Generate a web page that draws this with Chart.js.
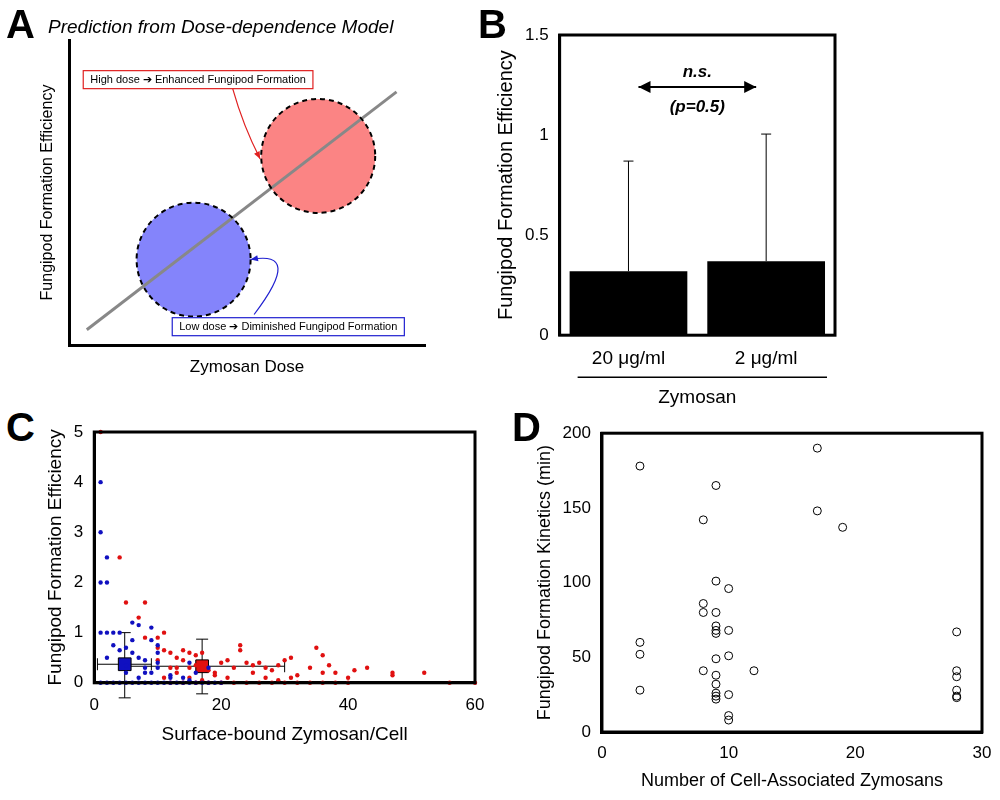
<!DOCTYPE html>
<html><head><meta charset="utf-8">
<script src="https://cdn.jsdelivr.net/npm/chart.js@4"></script>
<style>
body{margin:0;background:#fff;width:1000px;height:800px;position:relative;overflow:hidden;font-family:"Liberation Sans",Arial,sans-serif}
canvas{position:absolute}
.L{position:absolute;z-index:5;font-size:40px;font-weight:bold;font-family:"Liberation Sans",Arial,sans-serif}
#tA{position:absolute;z-index:5;left:48px;top:16px;font-style:italic;font-size:19px}
</style></head><body>
<canvas id="cA" width="470" height="419" style="left:12px;top:-17px"></canvas>
<canvas id="cB" width="370" height="390" style="left:490px;top:20px"></canvas>
<canvas id="cC" width="455" height="350" style="left:40px;top:410px"></canvas>
<canvas id="cD" width="470" height="386" style="left:530px;top:420px"></canvas>
<div class="L" style="left:6px;top:2px">A</div>
<div class="L" style="left:478px;top:2px">B</div>
<div class="L" style="left:6px;top:405px">C</div>
<div class="L" style="left:512px;top:405px">D</div>
<div id="tA">Prediction from Dose-dependence Model</div>
<script>
// ---------- DATA ----------
// Panel A (schematic)
const modelLine = [{x:5,y:5},{x:92,y:83}];
const lowDose = {x:35,y:28};
const highDose = {x:70,y:62};
const boxHigh = "High dose ➔ Enhanced Fungipod Formation";
const boxLow = "Low dose ➔ Diminished Fungipod Formation";
// Panel B
const barCategories = ["20 μg/ml","2 μg/ml"];
const barValues = [0.32, 0.37];
const barErrors = [0.55, 0.635];
// Panel C
const blueX = [1,1,2,1,2,1,2,3,4,2,3,4,5,6,7,5,6,6,7,8,8,9,9,9,10,10,10,10,5,7,8,12,12,14,15,16,15,18,1,2,3,4,5,6,7,8,9,10,11,12,13,14,15,16,17,18,19,20];
const blueY = [4,3,2.5,2,2,1,1,1,1,0.5,0.75,0.65,0.7,1.2,1.15,0.35,0.85,0.6,0.5,0.45,0.3,0.2,1.1,0.85,0.75,0.6,0.4,0.3,0.2,0.1,0.2,0.15,0.1,0.1,0.4,0.2,0.05,0.3,0,0,0,0,0,0,0,0,0,0,0,0,0,0,0,0,0,0,0,0];
const redX = [1,4,5,8,7,8,10,10,10,11,11,12,12,13,13,14,14,15,15,16,16,17,17,18,19,20,21,22,23,23,24,25,26,27,28,29,31,30,32,34,35,36,37,38,41,43,47,47,52,56,60,31,36,40,12,14,16,18,20,22,24,26,28,30,32,34,36,38,40,11,13,15,17,19,21,25,27,29];
const redY = [5,2.5,1.6,1.6,1.3,0.9,0.9,0.7,0.45,1.0,0.65,0.6,0.3,0.5,0.3,0.65,0.45,0.6,0.3,0.55,0.35,0.6,0.3,0.25,0.2,0.4,0.45,0.3,0.75,0.65,0.4,0.35,0.4,0.3,0.25,0.35,0.5,0.45,0.15,0.3,0.7,0.55,0.35,0.2,0.25,0.3,0.15,0.2,0.2,0,0,0.1,0.2,0.1,0,0,0,0,0,0,0,0,0,0,0,0,0,0,0,0.1,0.2,0.1,0.05,0.15,0.1,0.2,0.1,0.05];
const meanBlue = {x:4.8, y:0.37, yLo:-0.3, yHi:1.0, xLo:0.5, xHi:9};
const meanRed = {x:17, y:0.33, yLo:-0.22, yHi:0.87, xLo:5, xHi:30};
// Panel D
const dX = [3,3,3,3,8,8,8,8,9,9,9,9,9,9,9,9,9,9,9,9,10,10,10,10,10,10,12,17,17,19,28,28,28,28,28,28];
const dY = [178,60,52,28,142,86,80,41,165,101,80,71,68,66,49,38,32,26,24,22,96,68,51,25,11,8,41,190,148,137,67,41,37,28,24,23];

const F = "'Liberation Sans', Arial, sans-serif";
Chart.defaults.font.family = F;
Chart.defaults.color = "#000";
Chart.defaults.animation = false;
Chart.defaults.plugins.legend.display = false;
Chart.defaults.plugins.tooltip.enabled = false;

function frame(ctx, a, w){ctx.save();ctx.strokeStyle="#000";ctx.lineWidth=w;ctx.strokeRect(a.left,a.top,a.right-a.left,a.bottom-a.top);ctx.restore();}

// ---------- A ----------
new Chart(document.getElementById('cA'),{
 type:'scatter',
 data:{datasets:[
  {type:'line',data:modelLine,borderColor:'#888',borderWidth:3,pointRadius:0,order:1},
  {type:'bubble',data:[{x:highDose.x,y:highDose.y,r:57}],backgroundColor:'rgba(250,110,110,0.85)',borderWidth:0,order:2},
  {type:'bubble',data:[{x:lowDose.x,y:lowDose.y,r:57}],backgroundColor:'rgba(110,110,250,0.85)',borderWidth:0,order:2}
 ]},
 options:{responsive:false,layout:{padding:{right:10,top:0}},
  scales:{x:{min:0,max:100,ticks:{display:false},grid:{display:false},border:{width:3,color:'#000'},title:{display:true,text:'Zymosan Dose',font:{size:17}}},
          y:{min:0,max:100,ticks:{display:false},grid:{display:false},border:{width:3,color:'#000'},title:{display:true,text:'Fungipod Formation Efficiency',font:{size:16}}}}},
 plugins:[{id:'a',afterDatasetsDraw(c){const ctx=c.ctx,x=c.scales.x,y=c.scales.y;
   ctx.save();ctx.setLineDash([5,4]);ctx.lineWidth=2;ctx.strokeStyle='#000';
   [[highDose,57],[lowDose,57]].forEach(([p,r])=>{ctx.beginPath();ctx.arc(x.getPixelForValue(p.x),y.getPixelForValue(p.y),r,0,Math.PI*2);ctx.stroke();});
   ctx.setLineDash([]);ctx.font="11px "+F;ctx.textBaseline='middle';
   function box(t,vx,vy,col){const px=x.getPixelForValue(vx),py=y.getPixelForValue(vy);const w=ctx.measureText(t).width+14;
     ctx.fillStyle='#fff';ctx.fillRect(px,py-9,w,18);ctx.strokeStyle=col;ctx.lineWidth=1.2;ctx.strokeRect(px,py-9,w,18);ctx.fillStyle='#000';ctx.fillText(t,px+7,py);return [px,py,w];}
   box(boxHigh,4,87,'#e02020');box(boxLow,29,6,'#2020d0');
   function arrow(x0,y0,cx,cy,x1,y1,col){ctx.strokeStyle=col;ctx.fillStyle=col;ctx.lineWidth=1.2;ctx.beginPath();ctx.moveTo(x0,y0);ctx.quadraticCurveTo(cx,cy,x1,y1);ctx.stroke();
     const ang=Math.atan2(y1-cy,x1-cx);ctx.beginPath();ctx.moveTo(x1,y1);ctx.lineTo(x1-8*Math.cos(ang-0.4),y1-8*Math.sin(ang-0.4));ctx.lineTo(x1-8*Math.cos(ang+0.4),y1-8*Math.sin(ang+0.4));ctx.closePath();ctx.fill();}
   const hx=x.getPixelForValue(highDose.x),hy=y.getPixelForValue(highDose.y),lx=x.getPixelForValue(lowDose.x),ly=y.getPixelForValue(lowDose.y);
   arrow(x.getPixelForValue(46),y.getPixelForValue(84),hx-75,hy-30,hx-58,hy+3,'#e02020');
   arrow(x.getPixelForValue(52),y.getPixelForValue(10),lx+110,ly-10,lx+57,ly,'#2020d0');
   ctx.restore();}}]
});

// ---------- B ----------
new Chart(document.getElementById('cB'),{
 type:'bar',
 data:{labels:barCategories,datasets:[{data:barValues,backgroundColor:'#000',categoryPercentage:0.9,barPercentage:0.95}]},
 options:{responsive:false,layout:{padding:{right:25,top:15,bottom:28}},
  scales:{x:{grid:{display:false,drawTicks:false},border:{display:false},ticks:{font:{size:19},padding:12}},
   y:{min:0,max:1.5,grid:{display:false},border:{width:3,color:'#000'},ticks:{stepSize:0.5,font:{size:17},callback:v=>v},
     title:{display:true,text:'Fungipod Formation Efficiency',font:{size:20}}}}},
 plugins:[{id:'b',afterDraw(c){const ctx=c.ctx,a=c.chartArea,x=c.scales.x,y=c.scales.y;frame(ctx,a,3);
   ctx.save();ctx.lineWidth=1;ctx.strokeStyle='#000';
   barValues.forEach((v,i)=>{const px=x.getPixelForValue(i);const t=y.getPixelForValue(v+barErrors[i]);ctx.beginPath();ctx.moveTo(px,y.getPixelForValue(v));ctx.lineTo(px,t);ctx.moveTo(px-5,t);ctx.lineTo(px+5,t);ctx.stroke();});
   const x0=x.getPixelForValue(0)+10,x1=x.getPixelForValue(1)-10,ya=y.getPixelForValue(1.24);
   ctx.lineWidth=2;ctx.beginPath();ctx.moveTo(x0,ya);ctx.lineTo(x1,ya);ctx.stroke();
   [[x0,1],[x1,-1]].forEach(([px,d])=>{ctx.beginPath();ctx.moveTo(px,ya);ctx.lineTo(px+12*d,ya-6);ctx.lineTo(px+12*d,ya+6);ctx.closePath();ctx.fill();});
   ctx.font="italic bold 17px "+F;ctx.textAlign='center';ctx.fillText('n.s.',(x0+x1)/2,ya-10);ctx.fillText('(p=0.5)',(x0+x1)/2,ya+25);
   ctx.lineWidth=1.5;ctx.beginPath();ctx.moveTo(a.left+18,a.bottom+42);ctx.lineTo(a.right-8,a.bottom+42);ctx.stroke();
   ctx.font="19px "+F;ctx.fillText('Zymosan',(a.left+a.right)/2,a.bottom+68);ctx.restore();}}]
});

// ---------- C ----------
const ptsB = blueX.map((v,i)=>({x:v,y:blueY[i]})), ptsR = redX.map((v,i)=>({x:v,y:redY[i]}));
new Chart(document.getElementById('cC'),{
 type:'scatter',
 data:{datasets:[
  {data:ptsB,backgroundColor:'#1010c0',borderWidth:0,pointRadius:2.2},
  {data:ptsR,backgroundColor:'#e01010',borderWidth:0,pointRadius:2.2},
  {data:[{x:meanBlue.x,y:meanBlue.y}],pointStyle:'rect',pointRadius:9,backgroundColor:'#1010c0',borderColor:'#000',borderWidth:1},
  {data:[{x:meanRed.x,y:meanRed.y}],pointStyle:'rect',pointRadius:9,backgroundColor:'#e01010',borderColor:'#000',borderWidth:1}
 ]},
 options:{responsive:false,clip:false,layout:{padding:{right:20,top:22,bottom:10}},
  scales:{x:{min:0,max:60,grid:{display:false},border:{width:3,color:'#000'},ticks:{stepSize:20,font:{size:17},padding:4},title:{display:true,text:'Surface-bound Zymosan/Cell',font:{size:19}}},
   y:{min:0,max:5,grid:{display:false},border:{width:3,color:'#000'},ticks:{stepSize:1,font:{size:17}},title:{display:true,text:'Fungipod Formation Efficiency',font:{size:19}}}}},
 plugins:[{id:'c',beforeDatasetsDraw(c){const ctx=c.ctx,x=c.scales.x,y=c.scales.y;ctx.save();ctx.strokeStyle='#000';ctx.lineWidth=1;
   [meanBlue,meanRed].forEach(m=>{const px=x.getPixelForValue(m.x),py=y.getPixelForValue(m.y),t=y.getPixelForValue(m.yHi),b=y.getPixelForValue(m.yLo),l=x.getPixelForValue(m.xLo),r=x.getPixelForValue(m.xHi);
    ctx.beginPath();ctx.moveTo(px,t);ctx.lineTo(px,b);ctx.moveTo(px-6,t);ctx.lineTo(px+6,t);ctx.moveTo(px-6,b);ctx.lineTo(px+6,b);
    ctx.moveTo(l,py);ctx.lineTo(r,py);ctx.moveTo(l,py-6);ctx.lineTo(l,py+6);ctx.moveTo(r,py-6);ctx.lineTo(r,py+6);ctx.stroke();});ctx.restore();},
  afterDraw(c){frame(c.ctx,c.chartArea,3);}}]
});

// ---------- D ----------
new Chart(document.getElementById('cD'),{
 type:'scatter',
 data:{datasets:[{data:dX.map((v,i)=>({x:v,y:dY[i]})),backgroundColor:'rgba(0,0,0,0)',borderColor:'#000',borderWidth:1,pointRadius:4}]},
 options:{responsive:false,layout:{padding:{right:18,top:12,bottom:10}},
  scales:{x:{min:0,max:30,grid:{display:false},border:{width:3,color:'#000'},ticks:{stepSize:10,font:{size:17}},title:{display:true,text:'Number of Cell-Associated Zymosans',font:{size:18}}},
   y:{min:0,max:200,grid:{display:false},border:{width:3,color:'#000'},ticks:{stepSize:50,font:{size:17}},title:{display:true,text:'Fungipod Formation Kinetics (min)',font:{size:18}}}}},
 plugins:[{id:'d',afterDraw(c){frame(c.ctx,c.chartArea,3);}}]
});
</script></body></html>
